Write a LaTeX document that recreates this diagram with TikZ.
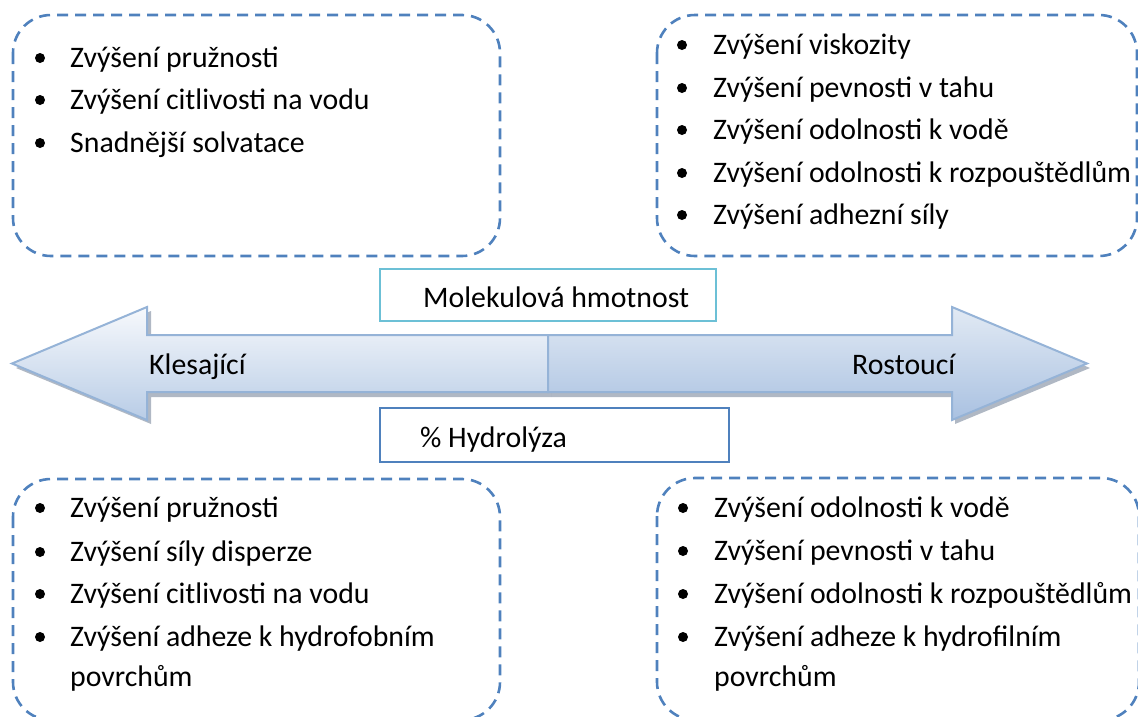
\documentclass[tikz,border=0pt]{standalone}
\usepackage{fontspec}
\setmainfont{Carlito}
\definecolor{dashblue}{HTML}{4F81BD}
\definecolor{arrline}{HTML}{95B3D7}
\definecolor{arrtop}{HTML}{F7F9FC}
\definecolor{arrbot}{HTML}{B8CCE6}
\definecolor{arrtopR}{HTML}{E2EAF4}
\definecolor{arrbotR}{HTML}{A9C1E1}
\definecolor{shadowgrey}{HTML}{8E9AAB}
\definecolor{cyanline}{HTML}{6CC0D6}
\begin{document}
\begin{tikzpicture}[x=1pt,y=-1pt,
  txt/.style={anchor=base west,inner sep=0pt,font=\fontsize{29.8pt}{36pt}\selectfont},
  dot/.style={circle,fill=black,inner sep=0pt,minimum size=10pt},
  dbox/.style={draw=dashblue,line width=2.6pt,dash pattern=on 11pt off 7pt,rounded corners=38pt},
  arrowshape/.style={draw=arrline,line width=2pt,line join=miter},
  labelbox/.style={line width=1.5pt}
]
\useasboundingbox (0,0) rectangle (1138,716);
\clip (0,0) rectangle (1138,716);

% dashed boxes
\draw[dbox] (13,15) rectangle (500,256);
\draw[dbox] (657,15) rectangle (1137,256);
\draw[dbox] (13,479) rectangle (500,720);
\draw[dbox] (657,478) rectangle (1139,720);

% top-left list
\foreach \y/\t [count=\i] in {58/Zvýšení pružnosti,100/Zvýšení citlivosti na vodu,143/Snadnější solvatace}{
  \node[dot] (tld\i) at (40,\y) {};
  \node[txt] (tlt\i) at (70,\y+9) {\t};
}
% top-right list
\foreach \y/\t [count=\i] in {45/Zvýšení viskozity,88/Zvýšení pevnosti v tahu,130/Zvýšení odolnosti k vodě,173/Zvýšení odolnosti k rozpouštědlům,215/Zvýšení adhezní síly}{
  \node[dot] (trd\i) at (682,\y) {};
  \node[txt] (trt\i) at (713,\y+9) {\t};
}
% bottom-left list
\foreach \y/\t [count=\i] in {508/Zvýšení pružnosti,552/Zvýšení síly disperze,594/Zvýšení citlivosti na vodu,637/Zvýšení adheze k hydrofobním}{
  \node[dot] (bld\i) at (40,\y) {};
  \node[txt] (blt\i) at (70,\y+9) {\t};
}
\node[txt] (blt5) at (70,677+9) {povrchům};
% bottom-right list
\foreach \y/\t [count=\i] in {508/Zvýšení odolnosti k vodě,551/Zvýšení pevnosti v tahu,594/Zvýšení odolnosti k rozpouštědlům,637/Zvýšení adheze k hydrofilním}{
  \node[dot] (brd\i) at (683,\y) {};
  \node[txt] (brt\i) at (714,\y+9) {\t};
}
\node[txt] (brt5) at (714,677+9) {povrchům};

% arrows: shadows
\fill[shadowgrey,opacity=0.7] (551,339) -- (151,339) -- (151,311) -- (16,368) -- (151,424) -- (151,397) -- (551,397) -- cycle;
\fill[shadowgrey,opacity=0.7] (551,339) -- (955,339) -- (955,311) -- (1090,368) -- (955,424) -- (955,397) -- (551,397) -- cycle;
% left arrow
\shade[top color=arrtop,bottom color=arrbot] (548,335) -- (147,335) -- (147,307) -- (12,363.5) -- (147,420) -- (147,392) -- (548,392) -- cycle;
\draw[arrowshape] (548,335) -- (147,335) -- (147,307) -- (12,363.5) -- (147,420) -- (147,392) -- (548,392) -- cycle;
% right arrow
\shade[top color=arrtopR,bottom color=arrbotR] (548,335) -- (952,335) -- (952,307) -- (1087,363.5) -- (952,420) -- (952,392) -- (548,392) -- cycle;
\draw[arrowshape] (548,335) -- (952,335) -- (952,307) -- (1087,363.5) -- (952,420) -- (952,392) -- (548,392) -- cycle;

\node[txt] (kles) at (149,365+9) {Klesající};
\node[txt] (rost) at (852,365+9) {Rostoucí};

% label boxes
\draw[labelbox,draw=cyanline,fill=white] (380,269) rectangle (716,321);
\node[txt] (mol) at (423,298+9) {Molekulová hmotnost};
\draw[labelbox,draw=dashblue,fill=white] (380,408) rectangle (729,462);
\node[txt] (hyd) at (420,438+9) {\% Hydrolýza};
\end{tikzpicture}
\end{document}
